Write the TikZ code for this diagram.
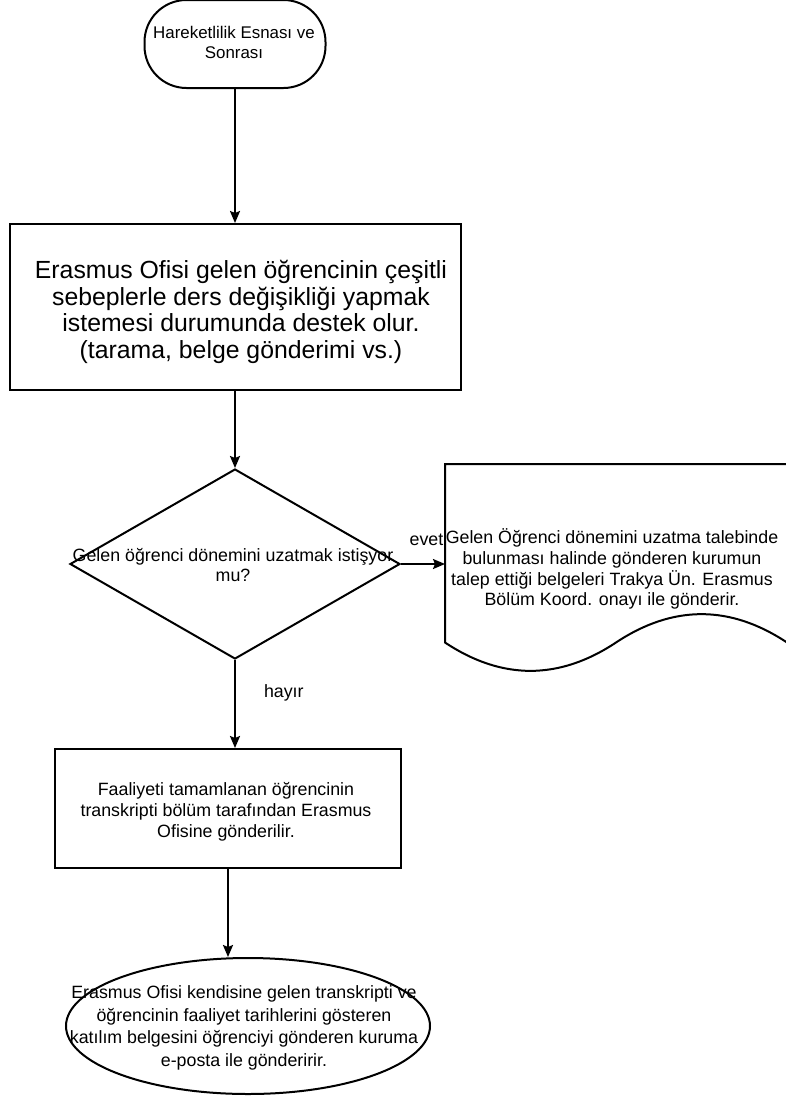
\documentclass[tikz,border=0pt]{standalone}
\usepackage{fontspec}
\setmainfont{Liberation Sans}
\usetikzlibrary{arrows.meta,shapes.geometric}
\begin{document}
\begin{tikzpicture}[x=1pt,y=-1pt,
  line width=2pt,
  arr/.style={-{Stealth[length=12pt,width=10pt,inset=2pt]}},
  small/.style={font=\fontsize{17.8}{20.9}\selectfont, align=center, inner sep=0pt},
  big/.style={font=\fontsize{24.8}{26.7}\selectfont, align=center, inner sep=0pt},
  box/.style={draw, rectangle},
]
\useasboundingbox (0,0) rectangle (786,1098);

% start terminator
\node[box, rounded corners=42pt, minimum width=181pt, minimum height=88pt] (start) at (235,44) {};
\node[small, font=\fontsize{16.9}{20}\selectfont] (starttext) at (234,42) {Hareketlilik Esnası ve\\Sonrası};

% box 1
\node[box, minimum width=451pt, minimum height=166pt] (b1) at (235,307) {};
\node[big] (b1text) at (241,312) {Erasmus Ofisi gelen öğrencinin çeşitli\\sebeplerle ders değişikliği yapmak\\istemesi durumunda destek olur.\\(tarama, belge gönderimi vs.)};

% decision
\node[draw, diamond, minimum width=330pt, minimum height=190pt, inner sep=0pt] (dia) at (235,564) {};
\node[small] (diatext) at (233,565) {Gelen öğrenci dönemini uzatmak istişyor\\mu?};

% document shape
\draw (445,464) -- (787,464) -- (787,642.5)
  .. controls (730,604.7) and (673,604.7) .. (616,642.5)
  .. controls (559,680.3) and (502,680.3) .. (445,642.5) -- cycle;
\coordinate (docin) at (445,564);
\node[small] (doc) at (612,569) {Gelen Öğrenci dönemini uzatma talebinde\\bulunması halinde gönderen kurumun\\talep ettiği belgeleri Trakya Ün. Erasmus\\Bölüm Koord. onayı ile gönderir.};

% box 2
\node[box, minimum width=346pt, minimum height=119pt] (b2) at (228,808.5) {};
\node[small] (b2text) at (226,811.5) {Faaliyeti tamamlanan öğrencinin\\transkripti bölüm tarafından Erasmus\\Ofisine gönderilir.};

% end ellipse
\node[draw, ellipse, minimum width=364pt, minimum height=136pt, inner sep=0pt] (ell) at (248,1026) {};
\node[small, font=\fontsize{17.8}{22.5}\selectfont] (elltext) at (244,1028) {Erasmus Ofisi kendisine gelen transkripti ve\\öğrencinin faaliyet tarihlerini gösteren\\katılım belgesini öğrenciyi gönderen kuruma\\e-posta ile gönderirir.};

% connectors
\draw[arr] (start.south) -- (b1.north);
\draw[arr] (b1.south) -- (dia.north);
\draw[arr] (dia.east) -- (docin) node[small, pos=0.58, above=17pt] (evet) {evet};
\draw[arr] (dia.south) -- (dia.south |- b2.north) node[small, pos=0.37, right=28pt] (hayir) {hayır};
\draw[arr] (b2.south) -- (b2.south |- ell.north);
\end{tikzpicture}
\end{document}
